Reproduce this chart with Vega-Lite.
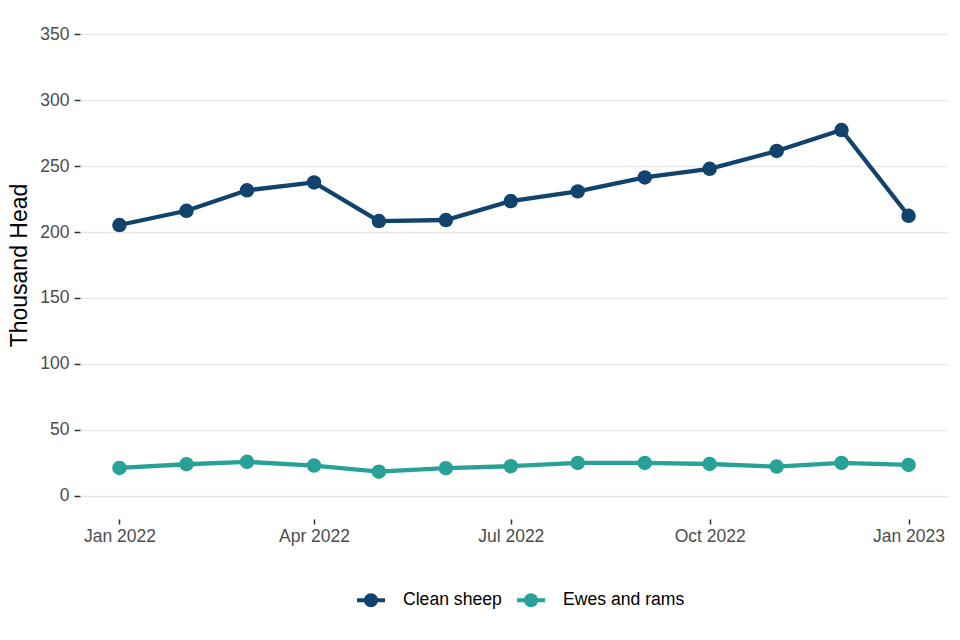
{
  "$schema": "https://vega.github.io/schema/vega-lite/v6.json",
  "width": 868,
  "height": 508,
  "autosize": {"type": "none"},
  "padding": {"left": 80, "top": 11, "right": 12, "bottom": 121},
  "background": "white",
  "config": {
    "font": "Liberation Sans",
    "view": {"stroke": null},
    "axis": {
      "domain": false,
      "labelFont": "Liberation Sans",
      "labelColor": "#4D4D4D",
      "labelFontSize": 17.5,
      "tickColor": "#333333",
      "tickWidth": 1.5,
      "gridColor": "#E8E8E8",
      "gridWidth": 1.6,
      "titleFont": "Liberation Sans",
      "titleFontWeight": "normal",
      "titleColor": "#000000"
    }
  },
  "data": {
    "values": [
      {"date": "2022/01/01", "series": "Clean sheep", "value": 205.3},
      {"date": "2022/02/01", "series": "Clean sheep", "value": 216.1},
      {"date": "2022/03/01", "series": "Clean sheep", "value": 231.6},
      {"date": "2022/04/01", "series": "Clean sheep", "value": 237.6},
      {"date": "2022/05/01", "series": "Clean sheep", "value": 208.3},
      {"date": "2022/06/01", "series": "Clean sheep", "value": 209.1},
      {"date": "2022/07/01", "series": "Clean sheep", "value": 223.5},
      {"date": "2022/08/01", "series": "Clean sheep", "value": 230.8},
      {"date": "2022/09/01", "series": "Clean sheep", "value": 241.4},
      {"date": "2022/10/01", "series": "Clean sheep", "value": 247.9},
      {"date": "2022/11/01", "series": "Clean sheep", "value": 261.4},
      {"date": "2022/12/01", "series": "Clean sheep", "value": 277.3},
      {"date": "2023/01/01", "series": "Clean sheep", "value": 212.3},
      {"date": "2022/01/01", "series": "Ewes and rams", "value": 21.2},
      {"date": "2022/02/01", "series": "Ewes and rams", "value": 24.0},
      {"date": "2022/03/01", "series": "Ewes and rams", "value": 25.8},
      {"date": "2022/04/01", "series": "Ewes and rams", "value": 23.0},
      {"date": "2022/05/01", "series": "Ewes and rams", "value": 18.4},
      {"date": "2022/06/01", "series": "Ewes and rams", "value": 21.0},
      {"date": "2022/07/01", "series": "Ewes and rams", "value": 22.5},
      {"date": "2022/08/01", "series": "Ewes and rams", "value": 25.0},
      {"date": "2022/09/01", "series": "Ewes and rams", "value": 25.0},
      {"date": "2022/10/01", "series": "Ewes and rams", "value": 24.2},
      {"date": "2022/11/01", "series": "Ewes and rams", "value": 22.2},
      {"date": "2022/12/01", "series": "Ewes and rams", "value": 25.0},
      {"date": "2023/01/01", "series": "Ewes and rams", "value": 23.5}
    ]
  },
  "encoding": {
    "x": {
      "field": "date",
      "type": "temporal",
      "title": null,
      "scale": {
        "domain": [
          {"year": 2021, "month": 12, "date": 13, "hours": 18},
          {"year": 2023, "month": 1, "date": 19, "hours": 6}
        ],
        "nice": false
      },
      "axis": {
        "grid": false,
        "values": [
          {"year": 2022, "month": 1, "date": 1},
          {"year": 2022, "month": 4, "date": 1},
          {"year": 2022, "month": 7, "date": 1},
          {"year": 2022, "month": 10, "date": 1},
          {"year": 2023, "month": 1, "date": 1}
        ],
        "format": "%b %Y",
        "tickSize": 5,
        "labelPadding": 3,
        "labelFlush": false
      }
    },
    "y": {
      "field": "value",
      "type": "quantitative",
      "title": "Thousand Head",
      "scale": {"domain": [-17.5, 367.5], "nice": false, "zero": false},
      "axis": {
        "values": [0, 50, 100, 150, 200, 250, 300, 350],
        "tickSize": 6,
        "labelPadding": 5,
        "titleFontSize": 23,
        "titlePadding": 8
      }
    },
    "color": {
      "field": "series",
      "type": "nominal",
      "scale": {
        "domain": ["Clean sheep", "Ewes and rams"],
        "range": ["#12436D", "#28A197"]
      },
      "legend": {
        "title": null,
        "orient": "none",
        "direction": "horizontal",
        "legendX": 277,
        "legendY": 575,
        "padding": 0,
        "symbolType": "M-1,-0.14H1V0.14H-1Z M0,-0.5A0.5,0.5,0,1,1,0,0.5A0.5,0.5,0,1,1,0,-0.5Z",
        "symbolSize": 784,
        "symbolStrokeWidth": 0,
        "labelFontSize": 17.6,
        "labelColor": "#000000",
        "labelOffset": 18,
        "columnPadding": 15,
        "encode": {
          "symbols": {
            "update": {
              "fill": {"scale": "color", "field": "value"},
              "fillOpacity": {"value": 1},
              "strokeWidth": {"value": 0}
            }
          }
        }
      }
    }
  },
  "layer": [
    {"mark": {"type": "line", "strokeWidth": 4.3}},
    {"mark": {"type": "point", "filled": true, "size": 210, "opacity": 1}}
  ]
}
